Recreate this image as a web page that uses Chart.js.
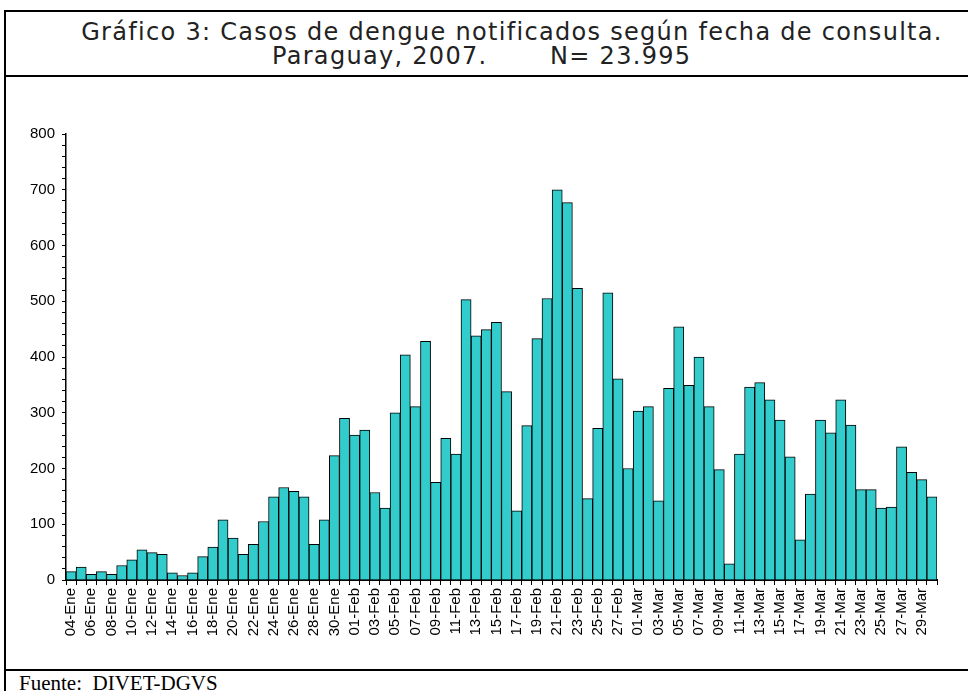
<!DOCTYPE html>
<html lang="es">
<head>
<meta charset="utf-8">
<title>Casos de dengue notificados - Paraguay 2007</title>
<script src="https://cdn.jsdelivr.net/npm/chart.js@4/dist/chart.umd.min.js"></script>
<style>
    html, body { margin: 0; padding: 0; background: #fff; }
    body { width: 968px; height: 691px; position: relative; overflow: hidden; }
    .linea { position: absolute; background: #000; }
    .titulo { position: absolute; font-family: "DejaVu Sans", sans-serif; font-size: 24px;
              color: #222; white-space: pre; line-height: 1; letter-spacing: 1.3px; }
    #fuente { position: absolute; left: 19px; top: 673px; font-family: "Liberation Serif", serif;
              font-size: 21px; color: #000; white-space: pre; line-height: 1; }
    #grafico { position: absolute; left: 7px; top: 78px; }
</style>
</head>
<body>
<!-- marco -->
<div class="linea" style="left:4px; top:10px; width:964px; height:2px;"></div>
<div class="linea" style="left:4px; top:75px; width:964px; height:2px;"></div>
<div class="linea" style="left:4px; top:669px; width:964px; height:2px;"></div>
<div class="linea" style="left:4px; top:10px; width:2px; height:681px;"></div>

<div class="titulo" style="left:50px; width:924px; top:20px; text-align:center;">Gráfico 3: Casos de dengue notificados según fecha de consulta.</div>
<div class="titulo" style="left:272px; top:44px;">Paraguay, 2007.</div>
<div class="titulo" style="left:550px; top:44px;">N= 23.995</div>

<canvas id="grafico" width="961" height="590"></canvas>

<div id="fuente">Fuente:  DIVET-DGVS</div>

<script>
(function () {
    'use strict';

    // fechas de consulta (04-Ene .. 30-Mar)
    var fechasEnero = ['04-Ene', '05-Ene', '06-Ene', '07-Ene', '08-Ene', '09-Ene', '10-Ene',
        '11-Ene', '12-Ene', '13-Ene', '14-Ene', '15-Ene', '16-Ene', '17-Ene', '18-Ene', '19-Ene',
        '20-Ene', '21-Ene', '22-Ene', '23-Ene', '24-Ene', '25-Ene', '26-Ene', '27-Ene', '28-Ene',
        '29-Ene', '30-Ene', '31-Ene'];
    var fechasFebrero = ['01-Feb', '02-Feb', '03-Feb', '04-Feb', '05-Feb', '06-Feb', '07-Feb',
        '08-Feb', '09-Feb', '10-Feb', '11-Feb', '12-Feb', '13-Feb', '14-Feb', '15-Feb', '16-Feb',
        '17-Feb', '18-Feb', '19-Feb', '20-Feb', '21-Feb', '22-Feb', '23-Feb', '24-Feb', '25-Feb',
        '26-Feb', '27-Feb', '28-Feb'];
    var fechasMarzo = ['01-Mar', '02-Mar', '03-Mar', '04-Mar', '05-Mar', '06-Mar', '07-Mar',
        '08-Mar', '09-Mar', '10-Mar', '11-Mar', '12-Mar', '13-Mar', '14-Mar', '15-Mar', '16-Mar',
        '17-Mar', '18-Mar', '19-Mar', '20-Mar', '21-Mar', '22-Mar', '23-Mar', '24-Mar', '25-Mar',
        '26-Mar', '27-Mar', '28-Mar', '29-Mar', '30-Mar'];

    // casos notificados por dia
    var casosEnero = [15, 23, 10, 15, 10, 26, 36, 54, 49, 46, 13, 8, 13, 42, 59, 108, 75, 46,
        64, 105, 149, 166, 159, 149, 64, 108, 223, 290];
    var casosFebrero = [260, 269, 157, 129, 300, 404, 311, 428, 175, 254, 226, 503, 438, 449,
        462, 338, 124, 277, 433, 505, 700, 677, 523, 146, 272, 515, 361, 200];
    var casosMarzo = [303, 311, 142, 344, 454, 349, 400, 311, 198, 29, 226, 346, 354, 323, 287,
        221, 72, 154, 287, 264, 323, 278, 162, 162, 129, 131, 239, 193, 180, 149];

    // eje Y: 0..800, etiquetas cada 100, marcas menores cada 20
    var ejeYMax = 800;
    var ejeYPaso = 20;
    var ejeYEtiquetaCada = 100;

    var fechas = fechasEnero.concat(fechasFebrero, fechasMarzo);
    var casos = casosEnero.concat(casosFebrero, casosMarzo);

    var fuenteEjes = { family: '"Liberation Sans", Arial, sans-serif', size: 15 };

    new Chart(document.getElementById('grafico'), {
        type: 'bar',
        data: {
            labels: fechas,
            datasets: [{
                data: casos,
                backgroundColor: '#33cccc',
                borderColor: '#000',
                borderWidth: 1,
                barPercentage: 1,
                categoryPercentage: 1
            }]
        },
        options: {
            responsive: false,
            animation: false,
            events: [],
            layout: { padding: { top: 56, right: 31, left: 0, bottom: 0 } },
            plugins: { legend: { display: false }, tooltip: { enabled: false } },
            scales: {
                x: {
                    grid: { offset: true, drawOnChartArea: false, tickLength: 5, tickColor: '#000' },
                    border: { color: '#000', width: 2 },
                    ticks: {
                        autoSkip: false,
                        minRotation: 90,
                        maxRotation: 90,
                        padding: 3,
                        color: '#000',
                        font: fuenteEjes,
                        // solo una fecha de cada dos lleva texto
                        callback: function (v, i) { return i % 2 === 0 ? this.getLabelForValue(v) : ''; }
                    },
                    afterFit: function (s) { s.height = 88; }
                },
                y: {
                    min: 0,
                    max: ejeYMax,
                    grid: { drawOnChartArea: false, tickLength: 4, tickColor: '#000' },
                    border: { color: '#000', width: 1.5 },
                    ticks: {
                        stepSize: ejeYPaso,
                        autoSkip: false,
                        padding: 7,
                        color: '#000',
                        font: fuenteEjes,
                        callback: function (v) { return v % ejeYEtiquetaCada === 0 ? String(v) : ''; }
                    },
                    afterFit: function (s) { s.width = 59; }
                }
            }
        }
    });
})();
</script>
</body>
</html>
